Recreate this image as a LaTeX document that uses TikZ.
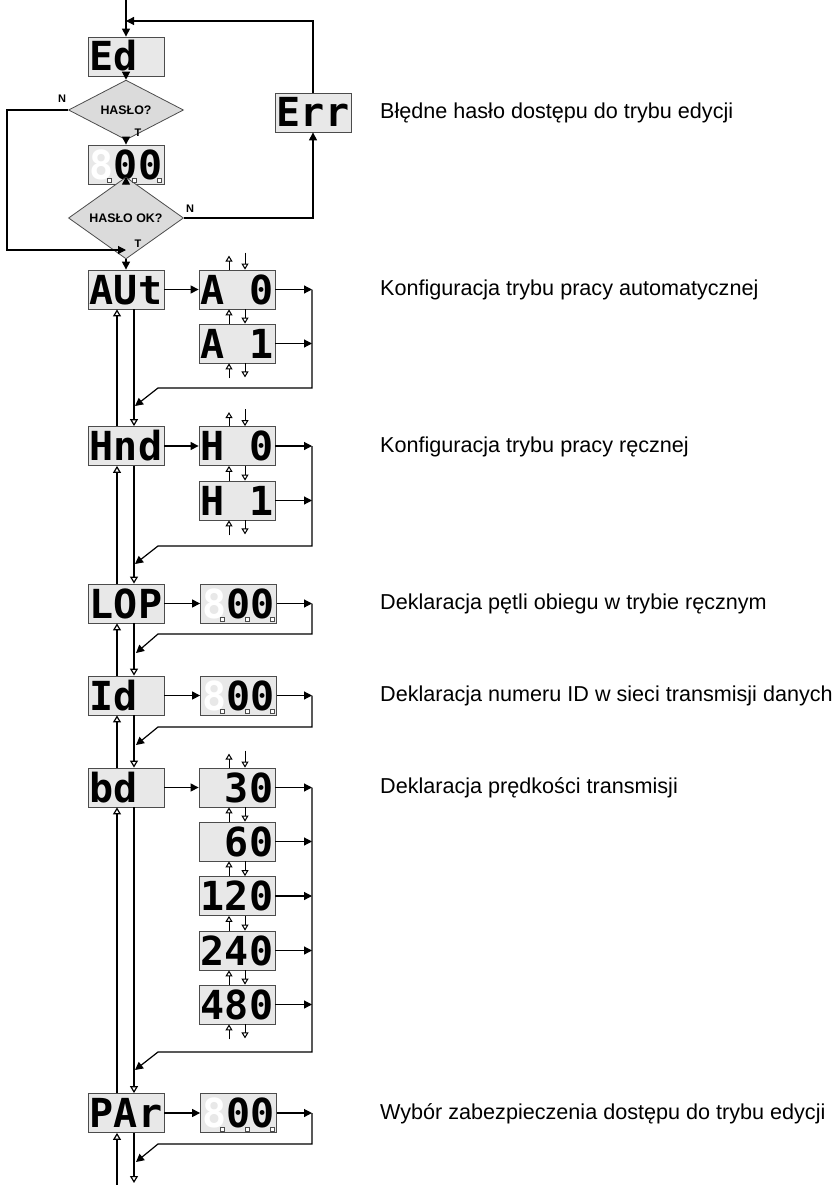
\documentclass[tikz,border=0pt]{standalone}
\usepackage{fontspec}
\setmainfont{Liberation Sans}
\newfontfamily\segfont{DejaVu Sans Mono}
\usetikzlibrary{arrows.meta, positioning, shapes.geometric, calc}

\newcommand\offdig{\phantom{0}}
\newcommand\decpts[1]{\foreach \dx in {22,47,72} \draw[dp] ($(#1.south west)+(\dx-2,-2)$) rectangle ++(4,-4);}

\begin{document}
\begin{tikzpicture}[
        x=1pt, y=-1pt,
        disp/.style={draw=gray!60!black, fill=gray!18, line width=0.8pt, minimum width=76pt, minimum height=39pt, inner sep=0pt, text height=29pt, text depth=0pt, font=\segfont\bfseries\fontsize{40}{40}\selectfont},
        query/.style={diamond, draw=gray!60!black, fill=gray!28, line width=0.8pt, minimum width=115pt, minimum height=35pt, inner sep=0pt, font=\bfseries\fontsize{12.4}{12}\selectfont},
        lbl/.style={inner sep=0pt, font=\bfseries\fontsize{11}{11}\selectfont},
        note/.style={anchor=west, inner sep=0pt, font=\fontsize{21.6}{24}\selectfont},
        dp/.style={draw=gray!60!black, fill=white, line width=0.5pt},
        flow/.style={-{Triangle[length=8pt,width=8pt]}, line width=1.2pt},
        back/.style={-{Triangle[open,length=7pt,width=8pt]}, line width=1.2pt},
        keyarr/.style={-{Triangle[open,length=6pt,width=7pt]}, line width=1pt}
    ]
    \useasboundingbox (0,0) rectangle (839,1185);

    \coordinate (rail) at (312,0);

    \node[disp] (ed) at (126,56.5) {Ed\offdig};
    \node[query] (q1) at (126,110) {HASŁO?};
    \node[disp] (pw) at (126,164.5) {\textcolor{white}{8}00};
    \node[query] (q2) at (126,218) {HASŁO OK?};
    \node[disp] (err) at (313,112.5) {Err};
    \decpts{pw}

    \node[lbl] (n1) at (62,99) {N};
    \node[lbl] (t1) at (138,133) {T};
    \node[lbl] (n2) at (190,209) {N};
    \node[lbl] (t2) at (138,244) {T};

    \coordinate (top) at (126,0);
    \coordinate (fb) at (313,21);
    \coordinate (fbin) at (126,21);
    \coordinate (nl) at (7,110);
    \coordinate (nb) at (7,250);
    \coordinate (nin) at (126,250);

    \node[disp] (aut) at (126,289.5) {AUt};
    \node[disp] (a0) at (237,289.5) {A\offdig0};
    \node[disp] (a1) at (237,343.5) {A\offdig1};

    \node[disp] (hnd) at (126,446) {Hnd};
    \node[disp] (h0) at (237,446) {H\offdig0};
    \node[disp] (h1) at (237,500.5) {H\offdig1};

    \node[disp] (lop) at (126,603.5) {LOP};
    \node[disp] (lopv) at (238.5,603.5) {\textcolor{white}{8}00};
    \decpts{lopv}

    \node[disp] (id) at (126,695.5) {Id\offdig};
    \node[disp] (idv) at (238.5,695.5) {\textcolor{white}{8}00};
    \decpts{idv}

    \node[disp] (bd) at (126,787.5) {bd\offdig};
    \node[disp] (b30) at (237,787.5) {\offdig30};
    \node[disp] (b60) at (237,841.5) {\offdig60};
    \node[disp] (b120) at (237,896) {120};
    \node[disp] (b240) at (237,950.5) {240};
    \node[disp] (b480) at (237,1004.5) {480};

    \node[disp] (par) at (126,1113) {PAr};
    \node[disp] (parv) at (238.5,1113) {\textcolor{white}{8}00};
    \decpts{parv}

    \node[note] (terr) at (380,113) {Błędne hasło dostępu do trybu edycji};
    \node[note] (taut) at (380,290) {Konfiguracja trybu pracy automatycznej};
    \node[note] (thnd) at (380,446.5) {Konfiguracja trybu pracy ręcznej};
    \node[note] (tlop) at (380,604) {Deklaracja pętli obiegu w trybie ręcznym};
    \node[note] (tid) at (380,696) {Deklaracja numeru ID w sieci transmisji danych};
    \node[note] (tbd) at (380,788) {Deklaracja prędkości transmisji};
    \node[note] (tpar) at (380,1113.5) {Wybór zabezpieczenia dostępu do trybu edycji};

    \draw[flow] (top) -- (ed);
    \draw[flow] (err) -- (fb) -- (fbin);
    \draw[flow] (ed) -- (q1);
    \draw[flow] (q1) -- (pw);
    \draw[flow] (pw) -- (q2);
    \draw[flow] (q2) -- (aut);
    \draw[flow] (q2) -| (err);
    \draw[flow] (q1) -- (nl) -- (nb) -- (nin);

    \draw[flow] (aut) -- (a0);
    \draw[flow] (a0) -- (a0 -| rail);
    \draw[flow] (a1) -- (a1 -| rail);
    \draw[flow] (a0 -| rail) -- (312,388) -- (158,388) -- (135,406);
    \draw[keyarr] ([xshift=-8pt]a0.north) -- ++(0,-14);
    \draw[keyarr] ([xshift=8pt,yshift=17pt]a0.north) -- ([xshift=8pt]a0.north);
    \draw[keyarr] ([xshift=-8pt]a1.north) -- ([xshift=-8pt]a0.south);
    \draw[keyarr] ([xshift=8pt]a0.south) -- ([xshift=8pt]a1.north);
    \draw[keyarr] ([xshift=-8pt,yshift=-15pt]a1.south) -- ([xshift=-8pt]a1.south);
    \draw[keyarr] ([xshift=8pt]a1.south) -- ++(0,14);

    \draw[flow] (hnd) -- (h0);
    \draw[flow] (h0) -- (h0 -| rail);
    \draw[flow] (h1) -- (h1 -| rail);
    \draw[flow] (h0 -| rail) -- (312,546) -- (158,546) -- (135,564);
    \draw[keyarr] ([xshift=-8pt]h0.north) -- ++(0,-14);
    \draw[keyarr] ([xshift=8pt,yshift=17pt]h0.north) -- ([xshift=8pt]h0.north);
    \draw[keyarr] ([xshift=-8pt]h1.north) -- ([xshift=-8pt]h0.south);
    \draw[keyarr] ([xshift=8pt]h0.south) -- ([xshift=8pt]h1.north);
    \draw[keyarr] ([xshift=-8pt,yshift=-15pt]h1.south) -- ([xshift=-8pt]h1.south);
    \draw[keyarr] ([xshift=8pt]h1.south) -- ++(0,14);

    \draw[flow] (lop) -- (lopv);
    \draw[flow] (lopv) -- (lopv -| rail);
    \draw[flow] (lopv -| rail) -- (312,634) -- (158,634) -- (136,653);

    \draw[flow] (id) -- (idv);
    \draw[flow] (idv) -- (idv -| rail);
    \draw[flow] (idv -| rail) -- (312,727) -- (158,727) -- (136,745);

    \draw[flow] (bd) -- (b30);
    \draw[flow] (b30) -- (b30 -| rail);
    \draw[flow] (b60) -- (b60 -| rail);
    \draw[flow] (b120) -- (b120 -| rail);
    \draw[flow] (b240) -- (b240 -| rail);
    \draw[flow] (b480) -- (b480 -| rail);
    \draw[flow] (b30 -| rail) -- (312,1052) -- (158,1052) -- (135,1070);
    \draw[keyarr] ([xshift=-8pt]b30.north) -- ++(0,-14);
    \draw[keyarr] ([xshift=8pt,yshift=17pt]b30.north) -- ([xshift=8pt]b30.north);
    \foreach \u/\l in {b30/b60, b60/b120, b120/b240, b240/b480} {
        \draw[keyarr] ([xshift=-8pt]\l.north) -- ([xshift=-8pt]\u.south);
        \draw[keyarr] ([xshift=8pt]\u.south) -- ([xshift=8pt]\l.north);
    }
    \draw[keyarr] ([xshift=-8pt,yshift=-15pt]b480.south) -- ([xshift=-8pt]b480.south);
    \draw[keyarr] ([xshift=8pt]b480.south) -- ++(0,14);

    \draw[flow] (par) -- (parv);
    \draw[flow] (parv) -- (parv -| rail);
    \draw[flow] (parv -| rail) -- (312,1144) -- (158,1144) -- (136,1162);

    \draw[back] ([xshift=8pt]aut.south) -- ([xshift=8pt]hnd.north);
    \draw[back] ([xshift=-9pt]hnd.north) -- ([xshift=-9pt]aut.south);
    \draw[back] ([xshift=8pt]hnd.south) -- ([xshift=8pt]lop.north);
    \draw[back] ([xshift=-9pt]lop.north) -- ([xshift=-9pt]hnd.south);
    \draw[back] ([xshift=8pt]lop.south) -- ([xshift=8pt]id.north);
    \draw[back] ([xshift=-9pt]id.north) -- ([xshift=-9pt]lop.south);
    \draw[back] ([xshift=8pt]id.south) -- ([xshift=8pt]bd.north);
    \draw[back] ([xshift=-9pt]bd.north) -- ([xshift=-9pt]id.south);
    \draw[back] ([xshift=8pt]bd.south) -- ([xshift=8pt]par.north);
    \draw[back] ([xshift=-9pt]par.north) -- ([xshift=-9pt]bd.south);
    \draw[back] ([xshift=8pt]par.south) -- (134,1183);
    \draw[back] (117,1185) -- ([xshift=-9pt]par.south);
\end{tikzpicture}
\end{document}
